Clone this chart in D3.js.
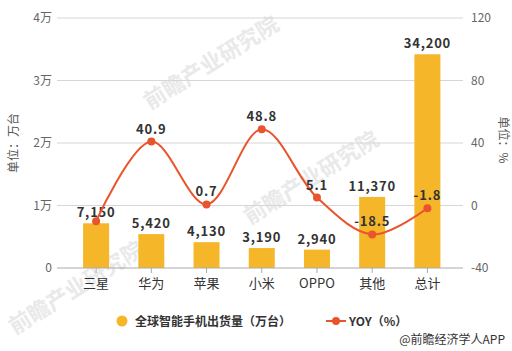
<!DOCTYPE html>
<html>
<head>
<meta charset="utf-8">
<script src="https://cdn.jsdelivr.net/npm/d3@7"></script>
<style>
  body { margin: 0; background: #fff; }
  svg { display: block; font-family: "Noto Sans CJK SC", "Noto Sans", sans-serif; }
</style>
</head>
<body>
<svg id="chart" width="512" height="351"></svg>
<script>
// data
var brands = ["三星", "华为", "苹果", "小米", "OPPO", "其他", "总计"];
var shipments = [7150, 5420, 4130, 3190, 2940, 11370, 34200];   // 万台
var yoy = [-10, 40.9, 0.7, 48.8, 5.1, -18.5, -1.8];            // %
var yoyLabels = ["", "40.9", "0.7", "48.8", "5.1", "-18.5", "-1.8"];
var leftTicks = [0, 10000, 20000, 30000, 40000];
var leftTickText = ["0", "1万", "2万", "3万", "4万"];
var rightTicks = [-40, 0, 40, 80, 120];

var svg = d3.select("#chart");
var gridLeft = 57, gridRight = 463, plotTop = 18, plotBottom = 268;

var x = d3.scaleBand().domain(brands).range([68.5, 455]);
var yL = d3.scaleLinear().domain([0, 40000]).range([plotBottom, plotTop]);
var yR = d3.scaleLinear().domain([-40, 120]).range([plotBottom, plotTop]);
var cx = function(i) { return x(brands[i]) + x.bandwidth() / 2; };

var barColor = "#F5B62A", lineColor = "#E9542C";

// watermarks
var wm = svg.append("g").attr("fill", "#e9e9e9").attr("font-weight", "bold");
[[150, 110], [250, 225], [15, 335]].forEach(function(p) {
    wm.append("text")
        .attr("transform", "translate(" + p[0] + "," + p[1] + ") rotate(-32)")
        .attr("font-size", 22)
        .text("前瞻产业研究院");
});

// gridlines
svg.append("g").selectAll("line")
    .data(leftTicks.slice(1))
    .join("line")
    .attr("x1", gridLeft).attr("x2", gridRight)
    .attr("y1", d => yL(d)).attr("y2", d => yL(d))
    .attr("stroke", "#d6d6d6").attr("stroke-width", 1);

// left axis labels
svg.append("g").selectAll("text")
    .data(leftTicks)
    .join("text")
    .attr("x", 52).attr("y", d => yL(d) + 4)
    .attr("text-anchor", "end")
    .attr("font-size", 12).attr("fill", "#666")
    .text((d, i) => leftTickText[i]);

// right axis labels
svg.append("g").selectAll("text")
    .data(rightTicks)
    .join("text")
    .attr("x", 471).attr("y", d => yR(d) + 4)
    .attr("text-anchor", "start")
    .attr("font-size", 12).attr("fill", "#666")
    .text(d => d);

// axis titles
svg.append("text")
    .attr("transform", "translate(18," + ((plotTop + plotBottom) / 2) + ") rotate(-90)")
    .attr("text-anchor", "middle").attr("font-size", 12).attr("fill", "#555")
    .text("单位：万台");
svg.append("text")
    .attr("transform", "translate(499,140) rotate(90)")
    .attr("text-anchor", "middle").attr("font-size", 12).attr("fill", "#555")
    .text("单位：%");

// bars
var bw = 26;
svg.append("g").selectAll("rect")
    .data(shipments)
    .join("rect")
    .attr("x", (d, i) => cx(i) - bw / 2)
    .attr("y", d => yL(d))
    .attr("width", bw)
    .attr("height", d => plotBottom - yL(d))
    .attr("fill", barColor);

// x axis line + ticks
svg.append("line")
    .attr("x1", gridLeft).attr("x2", gridRight)
    .attr("y1", plotBottom).attr("y2", plotBottom)
    .attr("stroke", "#aaa");
svg.append("g").selectAll("line")
    .data(brands)
    .join("line")
    .attr("x1", (d, i) => cx(i)).attr("x2", (d, i) => cx(i))
    .attr("y1", plotBottom).attr("y2", plotBottom + 5)
    .attr("stroke", "#aaa");
svg.append("g").selectAll("text")
    .data(brands)
    .join("text")
    .attr("x", (d, i) => cx(i))
    .attr("y", plotBottom + 20)
    .attr("text-anchor", "middle")
    .attr("font-size", 13).attr("fill", "#333")
    .text(d => d);

// bar labels
svg.append("g").selectAll("text")
    .data(shipments)
    .join("text")
    .attr("x", (d, i) => cx(i))
    .attr("y", d => yL(d) - 6)
    .attr("text-anchor", "middle")
    .attr("font-size", 13).attr("font-weight", "bold").attr("fill", "#333")
    .attr("letter-spacing", 0.8)
    .text(d => d3.format(",")(d));

// yoy line
var pts = yoy.map((v, i) => [cx(i), yR(v)]);
svg.append("path")
    .attr("d", d3.line().curve(d3.curveCatmullRom.alpha(0.5))(pts))
    .attr("fill", "none").attr("stroke", lineColor).attr("stroke-width", 2);
svg.append("g").selectAll("circle")
    .data(pts)
    .join("circle")
    .attr("cx", d => d[0]).attr("cy", d => d[1])
    .attr("r", 4).attr("fill", lineColor);
svg.append("g").selectAll("text")
    .data(pts)
    .join("text")
    .attr("x", d => d[0]).attr("y", d => d[1] - 8)
    .attr("text-anchor", "middle")
    .attr("font-size", 13).attr("font-weight", "bold").attr("fill", "#333")
    .attr("letter-spacing", 0.8)
    .text((d, i) => yoyLabels[i]);

// legend
var lg = svg.append("g").attr("font-size", 12).attr("font-weight", "bold").attr("fill", "#333");
lg.append("circle").attr("cx", 122).attr("cy", 321).attr("r", 5.5).attr("fill", barColor);
lg.append("text").attr("x", 135).attr("y", 326).text("全球智能手机出货量（万台）");
lg.append("line").attr("x1", 326).attr("x2", 346).attr("y1", 321).attr("y2", 321)
    .attr("stroke", lineColor).attr("stroke-width", 2);
lg.append("circle").attr("cx", 336).attr("cy", 321).attr("r", 4).attr("fill", lineColor);
lg.append("text").attr("x", 349).attr("y", 326).text("YOY（%）");

svg.append("text")
    .attr("x", 505).attr("y", 344)
    .attr("text-anchor", "end")
    .attr("font-size", 12).attr("fill", "#333")
    .text("@前瞻经济学人APP");
</script>
</body>
</html>
